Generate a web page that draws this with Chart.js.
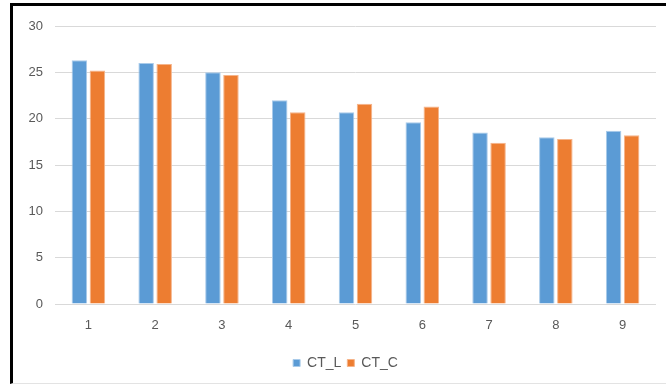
<!DOCTYPE html>
<html>
<head>
<meta charset="utf-8">
<script src="https://cdn.jsdelivr.net/npm/chart.js@4"></script>
<style>
  html, body { margin: 0; padding: 0; background: #ffffff; }
  body { width: 666px; height: 387px; position: relative; overflow: hidden; }
  #frame {
    position: absolute; left: 10px; top: 3px;
    width: 656px; height: 381px;
    border-top: 3px solid #000; border-left: 3px solid #000;
    border-bottom: 1px solid #e3e3e3;
    box-sizing: border-box;
  }
  #wrap { position: absolute; left: 0; top: 0; width: 653px; height: 378px; }
</style>
</head>
<body>
<div id="frame"><div id="wrap"><canvas id="c"></canvas></div></div>
<script>
// Categories and the two measured series
const categories = ['1', '2', '3', '4', '5', '6', '7', '8', '9'];
const ctL = [26.3, 26.0, 25.0, 22.0, 20.7, 19.6, 18.5, 18.0, 18.7];
const ctC = [25.2, 25.9, 24.7, 20.7, 21.6, 21.3, 17.4, 17.8, 18.2];
const yTicks = [0, 5, 10, 15, 20, 25, 30];

const FONT = { family: '"Liberation Sans", Arial, sans-serif', size: 13 };
const LEGEND_FONT = { family: '"Liberation Sans", Arial, sans-serif', size: 14 };
const TEXT = '#595959';

// Nudge the legend so it sits a little right of the canvas centre
const legendShift = {
  id: 'legendShift',
  afterLayout(chart) {
    const lg = chart.legend;
    if (lg) { lg.left += 11; lg.right += 11; }
  }
};

new Chart(document.getElementById('c'), {
  type: 'bar',
  data: {
    labels: categories,
    datasets: [
      { label: 'CT_L', data: ctL, backgroundColor: '#5B9BD5', borderColor: '#A9CBEA', borderWidth: 1 },
      { label: 'CT_C', data: ctC, backgroundColor: '#ED7D31', borderColor: '#F5B48A', borderWidth: 1 }
    ]
  },
  options: {
    responsive: true,
    maintainAspectRatio: false,
    animation: false,
    categoryPercentage: 0.54,
    barPercentage: 0.86,
    layout: { padding: { top: 20, right: 10, bottom: 4, left: 0 } },
    scales: {
      x: {
        grid: { display: false },
        border: { display: false },
        ticks: { color: TEXT, font: FONT, padding: 6 },
        afterFit: s => { s.height = 46; }
      },
      y: {
        min: 0, max: 30,
        afterBuildTicks: s => { s.ticks = yTicks.map(v => ({ value: v })); },
        grid: { color: '#d9d9d9', lineWidth: 1, drawTicks: false },
        border: { display: false },
        ticks: { color: TEXT, font: FONT, padding: 12 },
        afterFit: s => { s.width = 42; }
      }
    },
    plugins: {
      tooltip: { enabled: false },
      legend: {
        position: 'bottom',
        labels: { color: TEXT, font: LEGEND_FONT, boxWidth: 7, boxHeight: 7, padding: 6 }
      }
    }
  },
  plugins: [legendShift]
});
</script>
</body>
</html>
